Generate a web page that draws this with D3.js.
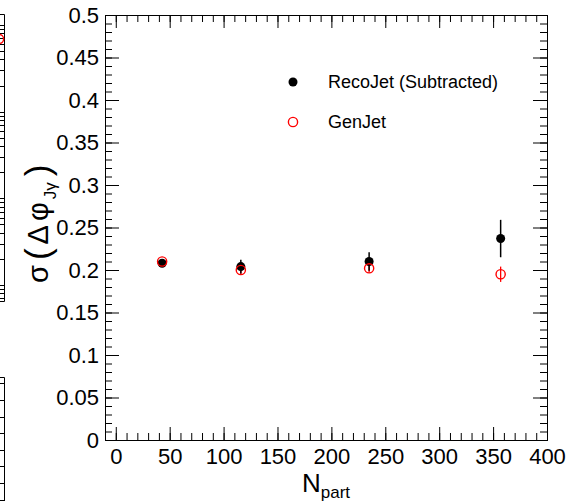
<!DOCTYPE html>
<html lang="en">
<head>
<meta charset="utf-8">
<title>sigma(dphi) vs Npart</title>
<script src="https://cdn.jsdelivr.net/npm/d3@7"></script>
<style>
 body { margin: 0; background: #fff; }
 svg { display: block; font-family: "Liberation Sans", Arial, sans-serif; }
</style>
</head>
<body>
<script>
// data
const nPart = [43, 116, 235, 357];
const recoSigma = [0.208, 0.204, 0.210, 0.237];
const recoErr = [0.003, 0.008, 0.011, 0.022];
const genSigma = [0.210, 0.200, 0.202, 0.195];
const genErr = [0.003, 0.005, 0.005, 0.009];
const xTicks = [0, 50, 100, 150, 200, 250, 300, 350, 400];
const yTicks = [0, 0.05, 0.1, 0.15, 0.2, 0.25, 0.3, 0.35, 0.4, 0.45, 0.5];
const yTickLabels = ["0", "0.05", "0.1", "0.15", "0.2", "0.25", "0.3", "0.35", "0.4", "0.45", "0.5"];
const legendLabels = ["RecoJet (Subtracted)", "GenJet"];
// the neighbouring pad, cut off at the left edge
const leftGenN = [395];
const leftGenVal = [0.69];

const W = 566, H = 501;
const svg = d3.select("body").append("svg").attr("width", W).attr("height", H);

const margin = {top: 15, right: 19, bottom: 61, left: 105};   // frame 105..547, 15..440
const x = d3.scaleLinear().domain([-10, 400]).range([margin.left, W - margin.right]);
const y = d3.scaleLinear().domain([0, 0.5]).range([H - margin.bottom, margin.top]);

// ---- neighbouring pads (only their right frame is visible) ----
const lx = d3.scaleLinear().domain([-10, 400]).range([4 - 442, 4]);
const ly = d3.scaleLog().domain([Math.pow(10, -3.196), Math.pow(10, 0.127)]).range([302, 14]);
const leftG = svg.append("g").attr("transform", "translate(0.5,0)");
leftG.append("path").attr("fill", "none").attr("stroke", "#000")
  .attr("d", "M-10,14.5H4V301.5H-10");
leftG.selectAll("line.lt").data(ly.ticks()).enter().append("line")
  .attr("x1", 4).attr("x2", d => Number.isInteger(Math.log10(d)) ? -10 : -3)
  .attr("y1", d => Math.round(ly(d)) + 0.5).attr("y2", d => Math.round(ly(d)) + 0.5)
  .attr("stroke", "#000");
leftG.selectAll("circle").data(leftGenN).enter().append("circle")
  .attr("cx", d => lx(d)).attr("cy", (d, i) => ly(leftGenVal[i]))
  .attr("r", 4.5).attr("fill", "none").attr("stroke", "#f00").attr("stroke-width", 1.4);

const ly2 = d3.scaleLinear().domain([0, 1]).range([549.4, 383.4]);
const lowG = svg.append("g").attr("transform", "translate(0.5,0)");
lowG.append("path").attr("fill", "none").attr("stroke", "#000")
  .attr("d", "M-10,377.5H4V" + H);
lowG.selectAll("line").data(d3.range(0.2, 1.01, 0.1)).enter().append("line")
  .attr("x1", 4).attr("x2", -4)
  .attr("y1", d => Math.round(ly2(d)) + 0.5).attr("y2", d => Math.round(ly2(d)) + 0.5)
  .attr("stroke", "#000");

// ---- main pad axes, ROOT style: ticks inside on all four sides ----
const minorX = d3.range(-10, 401, 10);
const minorY = d3.range(0, 0.5001, 0.01);
const font = "'Liberation Sans', Arial, sans-serif";

function styleAxis(g) {
  g.select(".domain").remove();
  g.attr("font-family", font).attr("font-size", 22);
  g.selectAll("text").attr("fill", "#000");
}

// bottom
svg.append("g").attr("transform", `translate(0,${y(0)})`)
  .call(d3.axisBottom(x).tickValues(minorX).tickSize(-7).tickFormat(""))
  .call(styleAxis);
svg.append("g").attr("transform", `translate(0,${y(0)})`)
  .call(d3.axisBottom(x).tickValues(xTicks).tickSize(-13).tickPadding(8).tickFormat(d3.format("d")))
  .call(styleAxis);
// top
svg.append("g").attr("transform", `translate(0,${y(0.5)})`)
  .call(d3.axisTop(x).tickValues(minorX).tickSize(-7).tickFormat(""))
  .call(styleAxis);
svg.append("g").attr("transform", `translate(0,${y(0.5)})`)
  .call(d3.axisTop(x).tickValues(xTicks).tickSize(-13).tickFormat(""))
  .call(styleAxis);
// left
svg.append("g").attr("transform", `translate(${x(-10)},0)`)
  .call(d3.axisLeft(y).tickValues(minorY).tickSize(-7).tickFormat(""))
  .call(styleAxis);
svg.append("g").attr("transform", `translate(${x(-10)},0)`)
  .call(d3.axisLeft(y).tickValues(yTicks).tickSize(-14).tickPadding(6).tickFormat((d, i) => yTickLabels[i]))
  .call(styleAxis);
// right
svg.append("g").attr("transform", `translate(${x(400)},0)`)
  .call(d3.axisRight(y).tickValues(minorY).tickSize(-7).tickFormat(""))
  .call(styleAxis);
svg.append("g").attr("transform", `translate(${x(400)},0)`)
  .call(d3.axisRight(y).tickValues(yTicks).tickSize(-14).tickFormat(""))
  .call(styleAxis);

// frame
svg.append("rect")
  .attr("x", x(-10) + 0.5).attr("y", y(0.5) + 0.5)
  .attr("width", x(400) - x(-10)).attr("height", y(0) - y(0.5))
  .attr("fill", "none").attr("stroke", "#000");

// axis titles
const xt = svg.append("text").attr("x", 302).attr("y", 492)
  .attr("font-family", font).attr("font-size", 26).attr("fill", "#000");
xt.append("tspan").text("N");
xt.append("tspan").attr("font-size", 17).attr("dy", 6).text("part");

const yt = svg.append("text").attr("transform", "translate(48,283) rotate(-90)")
  .attr("font-family", font).attr("font-size", 29).attr("fill", "#000");
yt.append("tspan").text("σ");
yt.append("tspan").attr("dx", 5).attr("dy", 2).attr("font-size", 35).text("(");
yt.append("tspan").attr("dx", 4).attr("dy", -2).text("Δ");
yt.append("tspan").attr("dx", 4).text("φ");
yt.append("tspan").attr("dx", 3).attr("dy", 8).attr("font-size", 17).text("Jγ");
yt.append("tspan").attr("dx", 6).attr("dy", -6).attr("font-size", 35).text(")");

// ---- data ----
const reco = nPart.map((n, i) => ({n: n, v: recoSigma[i], e: recoErr[i]}));
const gen = nPart.map((n, i) => ({n: n, v: genSigma[i], e: genErr[i]}));

const plot = svg.append("g");
plot.selectAll("line.gen").data(gen).enter().append("line").attr("class", "gen")
  .attr("x1", d => x(d.n)).attr("x2", d => x(d.n))
  .attr("y1", d => y(d.v - d.e)).attr("y2", d => y(d.v + d.e))
  .attr("stroke", "#f00").attr("stroke-width", 1.3);
plot.selectAll("line.reco").data(reco).enter().append("line").attr("class", "reco")
  .attr("x1", d => x(d.n)).attr("x2", d => x(d.n))
  .attr("y1", d => y(d.v - d.e)).attr("y2", d => y(d.v + d.e))
  .attr("stroke", "#000").attr("stroke-width", 1.5);
plot.selectAll("circle.reco").data(reco).enter().append("circle").attr("class", "reco")
  .attr("cx", d => x(d.n)).attr("cy", d => y(d.v)).attr("r", 4.5).attr("fill", "#000");
plot.selectAll("circle.gen").data(gen).enter().append("circle").attr("class", "gen")
  .attr("cx", d => x(d.n)).attr("cy", d => y(d.v)).attr("r", 4.6)
  .attr("fill", "#fff").attr("fill-opacity", 0).attr("stroke", "#f00").attr("stroke-width", 1.4);

// ---- legend ----
const leg = svg.append("g");
leg.append("circle").attr("cx", 293).attr("cy", 82).attr("r", 4.5).attr("fill", "#000");
leg.append("circle").attr("cx", 293).attr("cy", 122).attr("r", 4.6)
  .attr("fill", "none").attr("stroke", "#f00").attr("stroke-width", 1.4);
leg.selectAll("text").data(legendLabels).enter().append("text")
  .attr("x", 328).attr("y", (d, i) => 88 + i * 40)
  .attr("font-family", font).attr("font-size", 18).attr("fill", "#000")
  .text(d => d);
</script>
</body>
</html>
